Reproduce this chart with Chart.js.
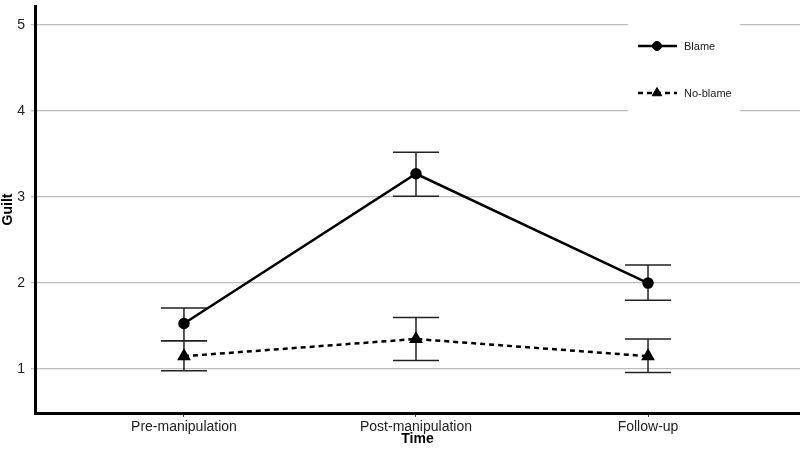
<html>
<head>
  <script src="https://cdn.jsdelivr.net/npm/chart.js"></script>
  <style>
    body { margin: 0; background: #fff; }
    #wrap { width: 800px; height: 451px; position: relative; }
  </style>
</head>
<body>
  <div id="wrap"><canvas id="Chart"></canvas></div>
  <script>
// data
const categories = ['Pre-manipulation', 'Post-manipulation', 'Follow-up'];
const blameMean = [1.53, 3.27, 2.00];
const blameLow = [1.33, 3.01, 1.80];
const blameHigh = [1.71, 3.52, 2.21];
const noBlameMean = [1.15, 1.35, 1.15];
const noBlameLow = [0.98, 1.10, 0.96];
const noBlameHigh = [1.33, 1.60, 1.35];
const yTicks = [1, 2, 3, 4, 5];

const FONT = "'Liberation Sans', Arial, sans-serif";

const toPoints = arr => arr.map((v, i) => ({ x: i, y: v }));

// no extra padding for overflowing labels, keep the plot box fixed
function noPad(s) {
  s.paddingLeft = 0; s.paddingRight = 0; s.paddingTop = 0; s.paddingBottom = 0;
}

// error bars with caps, drawn before the lines
const errorBars = {
  id: 'errorBars',
  beforeDatasetsDraw(chart) {
    const { ctx, scales: { x, y } } = chart;
    const sets = [[blameLow, blameHigh], [noBlameLow, noBlameHigh]];
    ctx.save();
    ctx.strokeStyle = '#222';
    ctx.lineWidth = 1.5;
    sets.forEach(([lo, hi]) => {
      lo.forEach((l, i) => {
        const px = x.getPixelForValue(i);
        const y1 = y.getPixelForValue(l), y2 = y.getPixelForValue(hi[i]);
        ctx.beginPath();
        ctx.moveTo(px, y1); ctx.lineTo(px, y2);
        ctx.moveTo(px - 23, y1); ctx.lineTo(px + 23, y1);
        ctx.moveTo(px - 23, y2); ctx.lineTo(px + 23, y2);
        ctx.stroke();
      });
    });
    ctx.restore();
  }
};

// legend box sitting over the grid, top right
const legendBox = {
  id: 'legendBox',
  afterDraw(chart) {
    const ctx = chart.ctx;
    ctx.save();
    ctx.fillStyle = '#fff';
    ctx.fillRect(628, 14, 112, 106);
    const rows = [
      { label: 'Blame', y: 46, dash: [], style: 'circle', r: 4.5 },
      { label: 'No-blame', y: 93, dash: [5, 4], style: 'triangle', r: 5.5 }
    ];
    rows.forEach(row => {
      ctx.strokeStyle = '#000';
      ctx.fillStyle = '#000';
      ctx.lineWidth = 2.5;
      ctx.setLineDash(row.dash);
      ctx.beginPath();
      ctx.moveTo(638, row.y); ctx.lineTo(677, row.y);
      ctx.stroke();
      ctx.setLineDash([]);
      ctx.lineWidth = 1;
      Chart.helpers.drawPoint(ctx, { pointStyle: row.style, radius: row.r, borderWidth: 1 }, 657, row.y);
      ctx.fillStyle = '#222';
      ctx.font = '11px ' + FONT;
      ctx.textBaseline = 'middle';
      ctx.fillText(row.label, 684, row.y + 1);
    });
    ctx.restore();
  }
};

const config = {
  type: 'line',
  data: {
    datasets: [
      {
        label: 'Blame',
        data: toPoints(blameMean),
        borderColor: '#000',
        backgroundColor: '#000',
        borderWidth: 2.5,
        pointStyle: 'circle',
        pointRadius: 4.5,
        pointHoverRadius: 4.5
      },
      {
        label: 'No-blame',
        data: toPoints(noBlameMean),
        borderColor: '#000',
        backgroundColor: '#000',
        borderWidth: 2.5,
        borderDash: [5, 4],
        pointStyle: 'triangle',
        pointRadius: 5.5,
        pointHoverRadius: 5.5
      }
    ]
  },
  options: {
    responsive: true,
    maintainAspectRatio: false,
    animation: false,
    layout: { autoPadding: false, padding: { top: 6, right: 0, left: 0, bottom: 0 } },
    plugins: { legend: { display: false }, tooltip: { enabled: false } },
    scales: {
      x: {
        type: 'linear',
        min: -0.642,
        max: 2.655,
        afterBuildTicks: s => { s.ticks = categories.map((c, i) => ({ value: i })); },
        afterFit: s => { s.height = 38; noPad(s); },
        border: { color: '#000', width: 3 },
        grid: { drawOnChartArea: false, drawTicks: true, tickLength: 4, color: '#444' },
        ticks: {
          callback: v => categories[v],
          color: '#222',
          padding: 2,
          maxRotation: 0,
          font: { family: FONT, size: 14 }
        },
        title: {
          display: true,
          text: 'Time',
          color: '#000',
          padding: { top: 0, bottom: 3 },
          font: { family: FONT, size: 14, weight: 'bold' }
        }
      },
      y: {
        min: 0.49,
        max: 5.22,
        afterBuildTicks: s => { s.ticks = yTicks.map(v => ({ value: v })); },
        afterFit: s => { s.width = 35; noPad(s); },
        border: { color: '#000', width: 3 },
        grid: { color: '#bdbdbd', lineWidth: 1.3, tickLength: 4 },
        ticks: {
          color: '#222',
          padding: 6,
          font: { family: FONT, size: 14 }
        },
        title: {
          display: true,
          text: 'Guilt',
          color: '#000',
          padding: 0,
          font: { family: FONT, size: 14, weight: 'bold' }
        }
      }
    }
  },
  plugins: [errorBars, legendBox]
};

window.addEventListener('load', () => {
  new Chart(document.getElementById('Chart').getContext('2d'), config);
});
  </script>
</body>
</html>
